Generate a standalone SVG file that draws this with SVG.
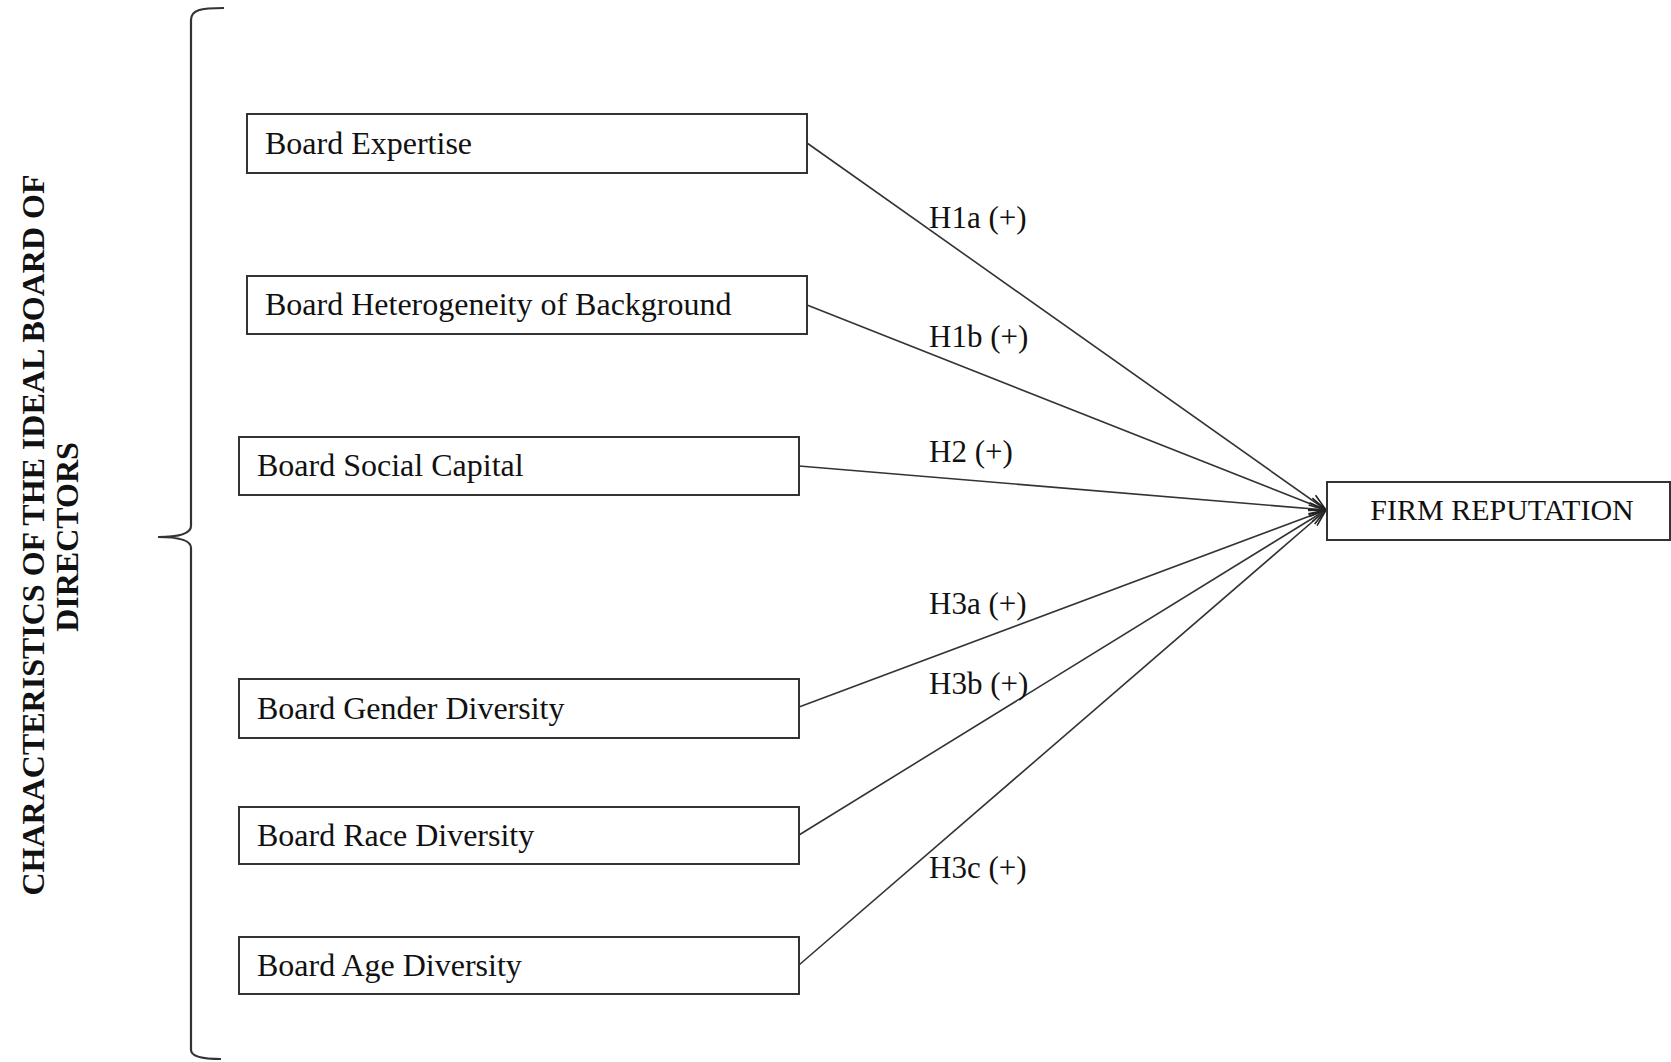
<svg xmlns="http://www.w3.org/2000/svg" width="1671" height="1062" viewBox="0 0 1671 1062">
<style>
.box{fill:#fff;stroke:#333;stroke-width:2}
.lbl{font-family:"Liberation Serif","Times New Roman",serif;font-size:32px;fill:#111}
.hyp{font-family:"Liberation Serif","Times New Roman",serif;font-size:31px;fill:#111}
.conn{stroke:#333;stroke-width:1.6;fill:none;marker-end:url(#arr)}
.side{font-family:"Liberation Serif","Times New Roman",serif;font-size:32px;font-weight:bold;fill:#111;text-anchor:middle}
</style>
<defs>
<marker id="arr" markerUnits="userSpaceOnUse" markerWidth="22" markerHeight="16" refX="19" refY="8" orient="auto">
<path d="M2,2 L19,8 L2,14" fill="none" stroke="#222" stroke-width="1.6"/>
</marker>
</defs>
<rect width="1671" height="1062" fill="#fff"/>
<g id="brace">
<path d="M224,8 C200,8 191,10 191,20 L191,526 Q191,537 158,537 Q191,537 191,548 L191,1050 Q191,1059 221,1059" fill="none" stroke="#333" stroke-width="2.2"/>
</g>
<g id="side-title">
<text class="side" transform="translate(44,535) rotate(-90)">CHARACTERISTICS OF THE IDEAL BOARD OF</text>
<text class="side" transform="translate(78,537) rotate(-90)">DIRECTORS</text>
</g>
<g id="connectors">
<line class="conn" x1="807" y1="143" x2="1326" y2="510"/>
<line class="conn" x1="807" y1="305" x2="1326" y2="510"/>
<line class="conn" x1="799" y1="466" x2="1326" y2="510"/>
<line class="conn" x1="799" y1="707" x2="1326" y2="510"/>
<line class="conn" x1="799" y1="835" x2="1326" y2="510"/>
<line class="conn" x1="799" y1="965" x2="1326" y2="510"/>
<text class="hyp" x="929" y="228">H1a (+)</text>
<text class="hyp" x="929" y="347">H1b (+)</text>
<text class="hyp" x="929" y="462">H2 (+)</text>
<text class="hyp" x="929" y="614">H3a (+)</text>
<text class="hyp" x="929" y="694">H3b (+)</text>
<text class="hyp" x="929" y="878">H3c (+)</text>
</g>
<g id="board-expertise">
<rect class="box" x="247" y="114" width="560" height="59"/>
<text class="lbl" x="265" y="154">Board Expertise</text>
</g>
<g id="board-heterogeneity">
<rect class="box" x="247" y="276" width="560" height="58"/>
<text class="lbl" x="265" y="315">Board Heterogeneity of Background</text>
</g>
<g id="board-social-capital">
<rect class="box" x="239" y="437" width="560" height="58"/>
<text class="lbl" x="257" y="476">Board Social Capital</text>
</g>
<g id="board-gender">
<rect class="box" x="239" y="679" width="560" height="59"/>
<text class="lbl" x="257" y="719">Board Gender Diversity</text>
</g>
<g id="board-race">
<rect class="box" x="239" y="807" width="560" height="57"/>
<text class="lbl" x="257" y="846">Board Race Diversity</text>
</g>
<g id="board-age">
<rect class="box" x="239" y="937" width="560" height="57"/>
<text class="lbl" x="257" y="976">Board Age Diversity</text>
</g>
<g id="firm-reputation">
<rect class="box" x="1327" y="482" width="343" height="58"/>
<text class="lbl" x="1502" y="520" text-anchor="middle" style="font-size:30px">FIRM REPUTATION</text>
</g>
</svg>
